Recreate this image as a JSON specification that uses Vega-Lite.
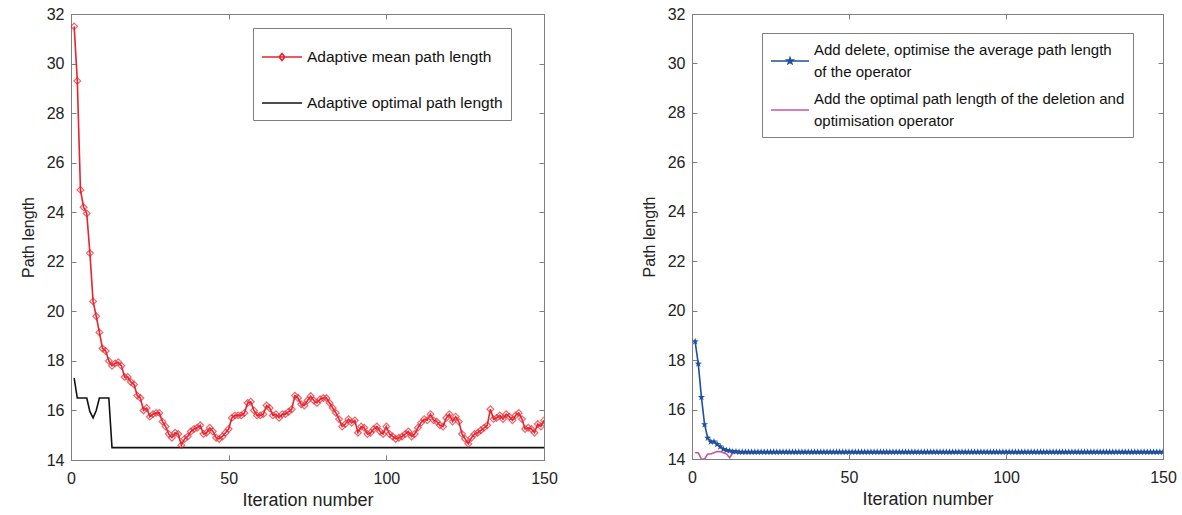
{
  "$schema": "https://vega.github.io/schema/vega-lite/v6.json",
  "padding": {"left": 19, "top": 5, "right": 5, "bottom": 5},
  "background": "white",
  "spacing": 82,
  "resolve": {"scale": {"color": "independent"}, "legend": {"color": "independent"}},
  "config": {
    "font": "Liberation Sans",
    "view": {"stroke": "#7f7f7f", "strokeWidth": 1},
    "axis": {
      "grid": false,
      "domainColor": "#7f7f7f",
      "tickColor": "#7f7f7f",
      "tickSize": -5,
      "labelFont": "Liberation Sans",
      "labelFontSize": 16,
      "labelColor": "#222222",
      "titleFont": "Liberation Sans",
      "titleFontSize": 16,
      "titleFontWeight": "normal",
      "titleColor": "#222222",
      "labelFlush": false
    },
    "legend": {
      "labelFont": "Liberation Sans",
      "labelFontSize": 15.5,
      "labelColor": "#111111",
      "labelLimit": 500
    }
  },
  "datasets": {
    "L": [
      {"it":1,"mean":31.5,"opt":17.3},{"it":2,"mean":29.3,"opt":16.5},{"it":3,"mean":24.9,"opt":16.5},{"it":4,"mean":24.2,"opt":16.5},{"it":5,"mean":23.95,"opt":16.5},
      {"it":6,"mean":22.35,"opt":15.95},{"it":7,"mean":20.4,"opt":15.7},{"it":8,"mean":19.8,"opt":16.0},{"it":9,"mean":19.15,"opt":16.5},{"it":10,"mean":18.5,"opt":16.5},
      {"it":11,"mean":18.4,"opt":16.5},{"it":12,"mean":18.0,"opt":16.5},{"it":13,"mean":17.8,"opt":14.5},{"it":14,"mean":17.9,"opt":14.5},{"it":15,"mean":17.95,"opt":14.5},
      {"it":16,"mean":17.8,"opt":14.5},{"it":17,"mean":17.35,"opt":14.5},{"it":18,"mean":17.35,"opt":14.5},{"it":19,"mean":17.15,"opt":14.5},{"it":20,"mean":17.05,"opt":14.5},
      {"it":21,"mean":16.6,"opt":14.5},{"it":22,"mean":16.5,"opt":14.5},{"it":23,"mean":16.0,"opt":14.5},{"it":24,"mean":16.1,"opt":14.5},{"it":25,"mean":15.75,"opt":14.5},
      {"it":26,"mean":15.85,"opt":14.5},{"it":27,"mean":15.9,"opt":14.5},{"it":28,"mean":15.9,"opt":14.5},{"it":29,"mean":15.55,"opt":14.5},{"it":30,"mean":15.35,"opt":14.5},
      {"it":31,"mean":15.05,"opt":14.5},{"it":32,"mean":14.9,"opt":14.5},{"it":33,"mean":15.1,"opt":14.5},{"it":34,"mean":15.05,"opt":14.5},{"it":35,"mean":14.6,"opt":14.5},
      {"it":36,"mean":14.85,"opt":14.5},{"it":37,"mean":14.95,"opt":14.5},{"it":38,"mean":15.15,"opt":14.5},{"it":39,"mean":15.25,"opt":14.5},{"it":40,"mean":15.3,"opt":14.5},
      {"it":41,"mean":15.4,"opt":14.5},{"it":42,"mean":15.05,"opt":14.5},{"it":43,"mean":15.1,"opt":14.5},{"it":44,"mean":15.3,"opt":14.5},{"it":45,"mean":15.15,"opt":14.5},
      {"it":46,"mean":14.9,"opt":14.5},{"it":47,"mean":14.85,"opt":14.5},{"it":48,"mean":14.95,"opt":14.5},{"it":49,"mean":15.1,"opt":14.5},{"it":50,"mean":15.25,"opt":14.5},
      {"it":51,"mean":15.7,"opt":14.5},{"it":52,"mean":15.8,"opt":14.5},{"it":53,"mean":15.8,"opt":14.5},{"it":54,"mean":15.8,"opt":14.5},{"it":55,"mean":15.9,"opt":14.5},
      {"it":56,"mean":16.3,"opt":14.5},{"it":57,"mean":16.35,"opt":14.5},{"it":58,"mean":16.0,"opt":14.5},{"it":59,"mean":15.8,"opt":14.5},{"it":60,"mean":15.8,"opt":14.5},
      {"it":61,"mean":15.85,"opt":14.5},{"it":62,"mean":16.2,"opt":14.5},{"it":63,"mean":16.1,"opt":14.5},{"it":64,"mean":15.8,"opt":14.5},{"it":65,"mean":15.85,"opt":14.5},
      {"it":66,"mean":15.7,"opt":14.5},{"it":67,"mean":15.85,"opt":14.5},{"it":68,"mean":15.85,"opt":14.5},{"it":69,"mean":15.95,"opt":14.5},{"it":70,"mean":16.05,"opt":14.5},
      {"it":71,"mean":16.6,"opt":14.5},{"it":72,"mean":16.5,"opt":14.5},{"it":73,"mean":16.25,"opt":14.5},{"it":74,"mean":16.2,"opt":14.5},{"it":75,"mean":16.4,"opt":14.5},
      {"it":76,"mean":16.58,"opt":14.5},{"it":77,"mean":16.4,"opt":14.5},{"it":78,"mean":16.3,"opt":14.5},{"it":79,"mean":16.45,"opt":14.5},{"it":80,"mean":16.5,"opt":14.5},
      {"it":81,"mean":16.5,"opt":14.5},{"it":82,"mean":16.3,"opt":14.5},{"it":83,"mean":16.1,"opt":14.5},{"it":84,"mean":15.9,"opt":14.5},{"it":85,"mean":15.65,"opt":14.5},
      {"it":86,"mean":15.35,"opt":14.5},{"it":87,"mean":15.45,"opt":14.5},{"it":88,"mean":15.65,"opt":14.5},{"it":89,"mean":15.5,"opt":14.5},{"it":90,"mean":15.6,"opt":14.5},
      {"it":91,"mean":15.1,"opt":14.5},{"it":92,"mean":15.35,"opt":14.5},{"it":93,"mean":15.3,"opt":14.5},{"it":94,"mean":15.05,"opt":14.5},{"it":95,"mean":15.1,"opt":14.5},
      {"it":96,"mean":15.25,"opt":14.5},{"it":97,"mean":15.35,"opt":14.5},{"it":98,"mean":15.15,"opt":14.5},{"it":99,"mean":15.05,"opt":14.5},{"it":100,"mean":15.35,"opt":14.5},
      {"it":101,"mean":15.05,"opt":14.5},{"it":102,"mean":14.95,"opt":14.5},{"it":103,"mean":14.85,"opt":14.5},{"it":104,"mean":14.9,"opt":14.5},{"it":105,"mean":14.95,"opt":14.5},
      {"it":106,"mean":15.05,"opt":14.5},{"it":107,"mean":15.15,"opt":14.5},{"it":108,"mean":14.95,"opt":14.5},{"it":109,"mean":15.05,"opt":14.5},{"it":110,"mean":15.3,"opt":14.5},
      {"it":111,"mean":15.5,"opt":14.5},{"it":112,"mean":15.65,"opt":14.5},{"it":113,"mean":15.6,"opt":14.5},{"it":114,"mean":15.85,"opt":14.5},{"it":115,"mean":15.6,"opt":14.5},
      {"it":116,"mean":15.55,"opt":14.5},{"it":117,"mean":15.4,"opt":14.5},{"it":118,"mean":15.35,"opt":14.5},{"it":119,"mean":15.7,"opt":14.5},{"it":120,"mean":15.85,"opt":14.5},
      {"it":121,"mean":15.55,"opt":14.5},{"it":122,"mean":15.75,"opt":14.5},{"it":123,"mean":15.55,"opt":14.5},{"it":124,"mean":15.05,"opt":14.5},{"it":125,"mean":14.85,"opt":14.5},
      {"it":126,"mean":14.65,"opt":14.5},{"it":127,"mean":14.9,"opt":14.5},{"it":128,"mean":15.05,"opt":14.5},{"it":129,"mean":15.1,"opt":14.5},{"it":130,"mean":15.2,"opt":14.5},
      {"it":131,"mean":15.3,"opt":14.5},{"it":132,"mean":15.4,"opt":14.5},{"it":133,"mean":16.05,"opt":14.5},{"it":134,"mean":15.65,"opt":14.5},{"it":135,"mean":15.7,"opt":14.5},
      {"it":136,"mean":15.8,"opt":14.5},{"it":137,"mean":15.65,"opt":14.5},{"it":138,"mean":15.85,"opt":14.5},{"it":139,"mean":15.75,"opt":14.5},{"it":140,"mean":15.6,"opt":14.5},
      {"it":141,"mean":15.8,"opt":14.5},{"it":142,"mean":15.9,"opt":14.5},{"it":143,"mean":15.65,"opt":14.5},{"it":144,"mean":15.25,"opt":14.5},{"it":145,"mean":15.3,"opt":14.5},
      {"it":146,"mean":15.25,"opt":14.5},{"it":147,"mean":15.1,"opt":14.5},{"it":148,"mean":15.45,"opt":14.5},{"it":149,"mean":15.35,"opt":14.5},{"it":150,"mean":15.6,"opt":14.5}
    ],
    "R": [
      {"it":1,"mean":18.75,"opt":14.25},{"it":2,"mean":17.85,"opt":14.25},{"it":3,"mean":16.5,"opt":14.0},{"it":4,"mean":15.4,"opt":14.0},{"it":5,"mean":14.85,"opt":14.2},
      {"it":6,"mean":14.7,"opt":14.2},{"it":7,"mean":14.7,"opt":14.25},{"it":8,"mean":14.6,"opt":14.3},{"it":9,"mean":14.5,"opt":14.3},{"it":10,"mean":14.4,"opt":14.25},
      {"it":11,"mean":14.35,"opt":14.2},{"it":12,"mean":14.33,"opt":14.05},{"it":13,"mean":14.3,"opt":14.25},{"it":14,"mean":14.3,"opt":14.25},{"it":15,"mean":14.28,"opt":14.25},
      {"it":16,"mean":14.28,"opt":14.25},{"it":17,"mean":14.28,"opt":14.25},{"it":18,"mean":14.28,"opt":14.25},{"it":19,"mean":14.28,"opt":14.25},{"it":20,"mean":14.28,"opt":14.25},
      {"it":21,"mean":14.28,"opt":14.25},{"it":22,"mean":14.28,"opt":14.25},{"it":23,"mean":14.28,"opt":14.25},{"it":24,"mean":14.28,"opt":14.25},{"it":25,"mean":14.28,"opt":14.25},
      {"it":26,"mean":14.28,"opt":14.25},{"it":27,"mean":14.28,"opt":14.25},{"it":28,"mean":14.28,"opt":14.25},{"it":29,"mean":14.28,"opt":14.25},{"it":30,"mean":14.28,"opt":14.25},
      {"it":31,"mean":14.28,"opt":14.25},{"it":32,"mean":14.28,"opt":14.25},{"it":33,"mean":14.28,"opt":14.25},{"it":34,"mean":14.28,"opt":14.25},{"it":35,"mean":14.28,"opt":14.25},
      {"it":36,"mean":14.28,"opt":14.25},{"it":37,"mean":14.28,"opt":14.25},{"it":38,"mean":14.28,"opt":14.25},{"it":39,"mean":14.28,"opt":14.25},{"it":40,"mean":14.28,"opt":14.25},
      {"it":41,"mean":14.28,"opt":14.25},{"it":42,"mean":14.28,"opt":14.25},{"it":43,"mean":14.28,"opt":14.25},{"it":44,"mean":14.28,"opt":14.25},{"it":45,"mean":14.28,"opt":14.25},
      {"it":46,"mean":14.28,"opt":14.25},{"it":47,"mean":14.28,"opt":14.25},{"it":48,"mean":14.28,"opt":14.25},{"it":49,"mean":14.28,"opt":14.25},{"it":50,"mean":14.28,"opt":14.25},
      {"it":51,"mean":14.28,"opt":14.25},{"it":52,"mean":14.28,"opt":14.25},{"it":53,"mean":14.28,"opt":14.25},{"it":54,"mean":14.28,"opt":14.25},{"it":55,"mean":14.28,"opt":14.25},
      {"it":56,"mean":14.28,"opt":14.25},{"it":57,"mean":14.28,"opt":14.25},{"it":58,"mean":14.28,"opt":14.25},{"it":59,"mean":14.28,"opt":14.25},{"it":60,"mean":14.28,"opt":14.25},
      {"it":61,"mean":14.28,"opt":14.25},{"it":62,"mean":14.28,"opt":14.25},{"it":63,"mean":14.28,"opt":14.25},{"it":64,"mean":14.28,"opt":14.25},{"it":65,"mean":14.28,"opt":14.25},
      {"it":66,"mean":14.28,"opt":14.25},{"it":67,"mean":14.28,"opt":14.25},{"it":68,"mean":14.28,"opt":14.25},{"it":69,"mean":14.28,"opt":14.25},{"it":70,"mean":14.28,"opt":14.25},
      {"it":71,"mean":14.28,"opt":14.25},{"it":72,"mean":14.28,"opt":14.25},{"it":73,"mean":14.28,"opt":14.25},{"it":74,"mean":14.28,"opt":14.25},{"it":75,"mean":14.28,"opt":14.25},
      {"it":76,"mean":14.28,"opt":14.25},{"it":77,"mean":14.28,"opt":14.25},{"it":78,"mean":14.28,"opt":14.25},{"it":79,"mean":14.28,"opt":14.25},{"it":80,"mean":14.28,"opt":14.25},
      {"it":81,"mean":14.28,"opt":14.25},{"it":82,"mean":14.28,"opt":14.25},{"it":83,"mean":14.28,"opt":14.25},{"it":84,"mean":14.28,"opt":14.25},{"it":85,"mean":14.28,"opt":14.25},
      {"it":86,"mean":14.28,"opt":14.25},{"it":87,"mean":14.28,"opt":14.25},{"it":88,"mean":14.28,"opt":14.25},{"it":89,"mean":14.28,"opt":14.25},{"it":90,"mean":14.28,"opt":14.25},
      {"it":91,"mean":14.28,"opt":14.25},{"it":92,"mean":14.28,"opt":14.25},{"it":93,"mean":14.28,"opt":14.25},{"it":94,"mean":14.28,"opt":14.25},{"it":95,"mean":14.28,"opt":14.25},
      {"it":96,"mean":14.28,"opt":14.25},{"it":97,"mean":14.28,"opt":14.25},{"it":98,"mean":14.28,"opt":14.25},{"it":99,"mean":14.28,"opt":14.25},{"it":100,"mean":14.28,"opt":14.25},
      {"it":101,"mean":14.28,"opt":14.25},{"it":102,"mean":14.28,"opt":14.25},{"it":103,"mean":14.28,"opt":14.25},{"it":104,"mean":14.28,"opt":14.25},{"it":105,"mean":14.28,"opt":14.25},
      {"it":106,"mean":14.28,"opt":14.25},{"it":107,"mean":14.28,"opt":14.25},{"it":108,"mean":14.28,"opt":14.25},{"it":109,"mean":14.28,"opt":14.25},{"it":110,"mean":14.28,"opt":14.25},
      {"it":111,"mean":14.28,"opt":14.25},{"it":112,"mean":14.28,"opt":14.25},{"it":113,"mean":14.28,"opt":14.25},{"it":114,"mean":14.28,"opt":14.25},{"it":115,"mean":14.28,"opt":14.25},
      {"it":116,"mean":14.28,"opt":14.25},{"it":117,"mean":14.28,"opt":14.25},{"it":118,"mean":14.28,"opt":14.25},{"it":119,"mean":14.28,"opt":14.25},{"it":120,"mean":14.28,"opt":14.25},
      {"it":121,"mean":14.28,"opt":14.25},{"it":122,"mean":14.28,"opt":14.25},{"it":123,"mean":14.28,"opt":14.25},{"it":124,"mean":14.28,"opt":14.25},{"it":125,"mean":14.28,"opt":14.25},
      {"it":126,"mean":14.28,"opt":14.25},{"it":127,"mean":14.28,"opt":14.25},{"it":128,"mean":14.28,"opt":14.25},{"it":129,"mean":14.28,"opt":14.25},{"it":130,"mean":14.28,"opt":14.25},
      {"it":131,"mean":14.28,"opt":14.25},{"it":132,"mean":14.28,"opt":14.25},{"it":133,"mean":14.28,"opt":14.25},{"it":134,"mean":14.28,"opt":14.25},{"it":135,"mean":14.28,"opt":14.25},
      {"it":136,"mean":14.28,"opt":14.25},{"it":137,"mean":14.28,"opt":14.25},{"it":138,"mean":14.28,"opt":14.25},{"it":139,"mean":14.28,"opt":14.25},{"it":140,"mean":14.28,"opt":14.25},
      {"it":141,"mean":14.28,"opt":14.25},{"it":142,"mean":14.28,"opt":14.25},{"it":143,"mean":14.28,"opt":14.25},{"it":144,"mean":14.28,"opt":14.25},{"it":145,"mean":14.28,"opt":14.25},
      {"it":146,"mean":14.28,"opt":14.25},{"it":147,"mean":14.28,"opt":14.25},{"it":148,"mean":14.28,"opt":14.25},{"it":149,"mean":14.28,"opt":14.25},{"it":150,"mean":14.28,"opt":14.25}
    ]
  },
  "hconcat": [
    {
      "width": 473,
      "height": 446,
      "data": {"name": "L"},
      "transform": [{"fold": ["mean", "opt"], "as": ["s", "v"]}],
      "layer": [
        {
          "mark": {"type": "line", "strokeWidth": 1.6, "clip": true},
          "encoding": {
            "x": {"field": "it", "type": "quantitative", "scale": {"domain": [0, 150], "nice": false},
                  "axis": {"orient": "bottom", "values": [0, 50, 100, 150], "title": "Iteration number", "titleFontSize": 18, "labelPadding": 15, "titlePadding": 5}},
            "y": {"field": "v", "type": "quantitative", "scale": {"domain": [14, 32], "nice": false, "zero": false},
                  "axis": {"orient": "left", "values": [14,16,18,20,22,24,26,28,30,32], "title": "Path length", "labelPadding": 12, "titlePadding": 10}},
            "color": {"field": "s", "type": "nominal",
                      "scale": {"domain": ["mean", "opt"], "range": ["#e8232d", "#111111"]},
                      "legend": {
                        "orient": "none", "legendX": 182, "legendY": 14, "title": null,
                        "strokeColor": "#7f7f7f", "fillColor": "#ffffff", "padding": 8, "rowPadding": 16,
                        "symbolSize": 1600, "symbolStrokeWidth": 1.6, "labelOffset": 4,
                        "labelExpr": "datum.label == 'mean' ? 'Adaptive mean path length' : 'Adaptive optimal path length'",
                        "encode": {
                          "symbols": {"update": {
                            "shape": {"signal": "datum.value == 'mean' ? 'M-1,0L1,0M0,-0.17L0.14,0L0,0.17L-0.14,0Z' : 'M-1,0L1,0'"},
                            "fill": {"value": "transparent"}
                          }}
                        }
                      }}
          }
        },
        {
          "transform": [{"filter": "datum.s == 'mean'"}],
          "mark": {"type": "point", "shape": "diamond", "filled": false, "color": "#e8232d", "size": 45, "strokeWidth": 1.2, "clip": true},
          "encoding": {
            "x": {"field": "it", "type": "quantitative", "axis": {"orient": "top", "labels": false, "title": null, "values": [0, 50, 100, 150]}},
            "y": {"field": "v", "type": "quantitative", "axis": {"orient": "right", "labels": false, "title": null, "values": [14,16,18,20,22,24,26,28,30,32]}}
          }
        }
      ],
      "resolve": {"axis": {"x": "independent", "y": "independent"}}
    },
    {
      "width": 471,
      "height": 445,
      "data": {"name": "R"},
      "transform": [{"fold": ["mean", "opt"], "as": ["s", "v"]}],
      "layer": [
        {
          "mark": {"type": "line", "strokeWidth": 1.6, "clip": true},
          "encoding": {
            "x": {"field": "it", "type": "quantitative", "scale": {"domain": [0, 150], "nice": false},
                  "axis": {"orient": "bottom", "values": [0, 50, 100, 150], "title": "Iteration number", "titleFontSize": 18, "labelPadding": 15, "titlePadding": 5}},
            "y": {"field": "v", "type": "quantitative", "scale": {"domain": [14, 32], "nice": false, "zero": false},
                  "axis": {"orient": "left", "values": [14,16,18,20,22,24,26,28,30,32], "title": "Path length", "labelPadding": 12, "titlePadding": 10}},
            "color": {"field": "s", "type": "nominal",
                      "scale": {"domain": ["mean", "opt"], "range": ["#1f4f9f", "#c9559f"]},
                      "legend": {
                        "orient": "none", "legendX": 70, "legendY": 19, "title": null,
                        "strokeColor": "#7f7f7f", "fillColor": "#ffffff", "padding": 8, "rowPadding": 10,
                        "symbolSize": 1444, "symbolStrokeWidth": 1.6, "labelOffset": 4, "labelFontSize": 15,
                        "labelExpr": "datum.label == 'mean' ? ['Add delete, optimise the average path length', 'of the operator'] : ['Add the optimal path length of the deletion and', 'optimisation operator']",
                        "encode": {
                          "symbols": {"update": {
                            "shape": {"signal": "datum.value == 'mean' ? 'M-1,0L1,0M0,-0.16L0.038,-0.053L0.152,-0.049L0.062,0.02L0.094,0.129L0,0.065L-0.094,0.129L-0.062,0.02L-0.152,-0.049L-0.038,-0.053Z' : 'M-1,0L1,0'"},
                            "fill": {"signal": "datum.value == 'mean' ? '#1f4f9f' : 'transparent'"}
                          }},
                          "labels": {"update": {"lineHeight": {"value": 22}, "dy": {"value": -11}}}
                        }
                      }}
          }
        },
        {
          "transform": [{"filter": "datum.s == 'mean'"}],
          "mark": {"type": "point", "shape": "M0,-1L0.24,-0.33L0.95,-0.31L0.39,0.12L0.59,0.81L0,0.41L-0.59,0.81L-0.39,0.12L-0.95,-0.31L-0.24,-0.33Z", "filled": true, "color": "#1f4f9f", "size": 55, "opacity": 1, "clip": true},
          "encoding": {
            "x": {"field": "it", "type": "quantitative", "axis": {"orient": "top", "labels": false, "title": null, "values": [0, 50, 100, 150]}},
            "y": {"field": "v", "type": "quantitative", "axis": {"orient": "right", "labels": false, "title": null, "values": [14,16,18,20,22,24,26,28,30,32]}}
          }
        }
      ],
      "resolve": {"axis": {"x": "independent", "y": "independent"}}
    }
  ]
}
